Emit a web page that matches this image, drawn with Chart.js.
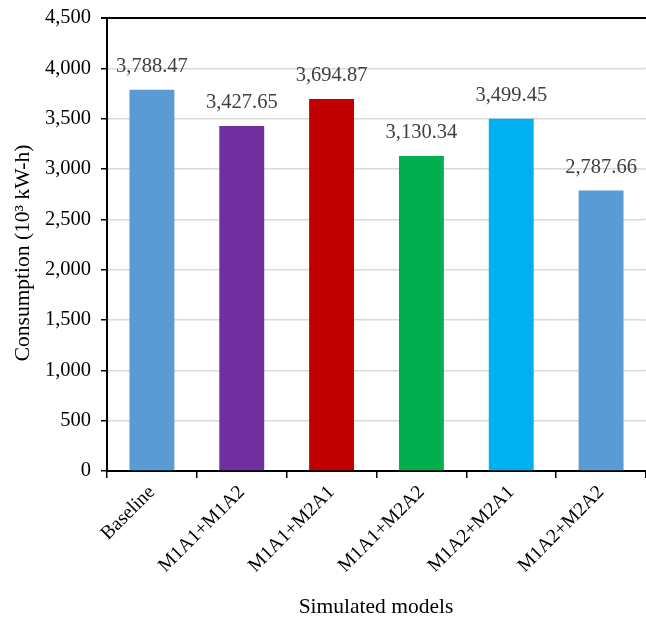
<!DOCTYPE html>
<html>
<head>
<meta charset="utf-8">
<script src="https://cdn.jsdelivr.net/npm/chart.js@4.4.0/dist/chart.umd.min.js"></script>
<style>
html,body{margin:0;padding:0;background:#fff;}
#wrap{width:646px;height:617px;position:relative;overflow:hidden;}
</style>
</head>
<body>
<div id="wrap"><canvas id="c" width="646" height="617"></canvas></div>
<script>
const categories = ["Baseline","M1A1+M1A2","M1A1+M2A1","M1A1+M2A2","M1A2+M2A1","M1A2+M2A2"];
const consumption = [3788.47, 3427.65, 3694.87, 3130.34, 3499.45, 2787.66];
const barColors = ["#5B9BD5","#7030A0","#C00000","#00B050","#00B0F0","#5B9BD5"];
const yTicks = [0,500,1000,1500,2000,2500,3000,3500,4000,4500];
const xTitle = "Simulated models";
const yTitle = "Consumption (10³ kW-h)";

const FONT = "'Liberation Serif', 'Times New Roman', serif";

const labelPlugin = {
  id: 'valueLabels',
  afterDatasetsDraw(chart) {
    const ctx = chart.ctx;
    const meta = chart.getDatasetMeta(0);
    ctx.save();
    ctx.font = "20.5px " + FONT;
    ctx.fillStyle = "#404040";
    ctx.textAlign = "center";
    ctx.textBaseline = "middle";
    meta.data.forEach((bar, i) => {
      const v = consumption[i];
      const txt = v.toLocaleString('en-US', {minimumFractionDigits: 2, maximumFractionDigits: 2});
      ctx.fillText(txt, bar.x, bar.y - 23);
    });
    // axis titles
    ctx.fillStyle = "#000";
    ctx.font = "21.5px " + FONT;
    ctx.fillText(xTitle, 376, 607);
    ctx.translate(23, 253);
    ctx.rotate(-Math.PI / 2);
    ctx.fillText(yTitle, 0, 0);
    ctx.restore();
  },
  afterDraw(chart) {
    // keep the right side of the plot open (no frame line), gridlines run to the edge
    const ctx = chart.ctx;
    const a = chart.chartArea;
    const ys = chart.scales.y;
    ctx.save();
    ctx.fillStyle = '#fff';
    ctx.fillRect(a.right - 3, a.top + 1.5, 10, a.bottom - a.top - 3);
    ctx.strokeStyle = '#D9D9D9';
    ctx.lineWidth = 1.5;
    yTicks.forEach(v => {
      if (v === 0 || v === 4500) return;
      const py = ys.getPixelForValue(v);
      ctx.beginPath();
      ctx.moveTo(a.right - 4, py);
      ctx.lineTo(chart.width, py);
      ctx.stroke();
    });
    ctx.restore();
  }
};

new Chart(document.getElementById('c'), {
  type: 'bar',
  data: {
    labels: categories,
    datasets: [{
      data: consumption,
      backgroundColor: barColors,
      borderWidth: 0,
      barPercentage: 0.5,
      categoryPercentage: 1.0
    }]
  },
  options: {
    responsive: false,
    animation: false,
    devicePixelRatio: 1,
    layout: { padding: { top: 18, right: 0, bottom: 0, left: 0 } },
    plugins: { legend: { display: false }, tooltip: { enabled: false } },
    scales: {
      x: {
        offset: true,
        grid: { display: true, drawOnChartArea: false, drawTicks: true, tickLength: 7, tickColor: '#000', offset: true, lineWidth: 1.5 },
        border: { display: true, color: '#000', width: 2 },
        ticks: {
          font: { family: FONT, size: 19.5 },
          color: '#000',
          minRotation: 45,
          maxRotation: 45,
          padding: 3
        },
        afterFit(scale) { scale.height = 146; }
      },
      y: {
        min: 0,
        max: 4500,
        afterBuildTicks(scale) { scale.ticks = yTicks.map(v => ({ value: v })); },
        grid: {
          color: (c) => (c.tick && c.tick.value === 4500) ? '#000' : '#D9D9D9',
          lineWidth: (c) => (c.tick && c.tick.value === 4500) ? 2 : 1.5,
          tickColor: '#000',
          tickLength: 6,
          drawTicks: true
        },
        border: { display: true, color: '#000', width: 2 },
        ticks: {
          font: { family: FONT, size: 20.5 },
          color: '#000',
          padding: 10,
          callback: (v) => Number(v).toLocaleString('en-US')
        },
        afterFit(scale) { scale.width = 107; scale.paddingTop = 0; scale.paddingBottom = 0; }
      }
    }
  },
  plugins: [labelPlugin]
});
</script>
</body>
</html>
